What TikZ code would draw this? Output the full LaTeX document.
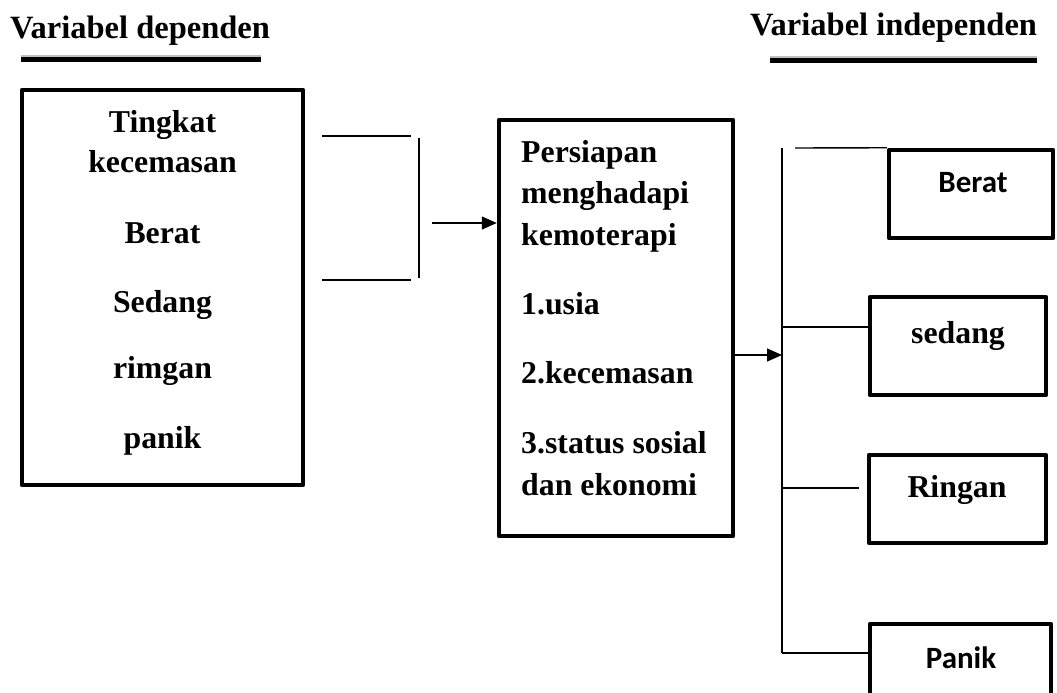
\documentclass[tikz,border=0pt]{standalone}
\usepackage{fontspec}
\setmainfont{Liberation Serif}
\newfontfamily\calib{Carlito}
\usetikzlibrary{arrows.meta}
\begin{document}
\begin{tikzpicture}[x=1pt,y=-1pt,
  box/.style={draw, line width=4.5pt, line join=round, inner sep=0pt},
  thin/.style={line width=1.4pt},
  arr/.style={thin, -{Triangle[length=15pt,width=13pt]}},
  txt/.style={anchor=base, inner sep=0pt, font=\fontsize{31.8}{38}\selectfont\bfseries},
  stxt/.style={anchor=base, inner sep=0pt, font=\fontsize{31}{36}\selectfont\calib\bfseries},
  ltxt/.style={anchor=base west, inner sep=0pt, font=\fontsize{31.8}{38}\selectfont\bfseries},
  ttxt/.style={anchor=base west, inner sep=0pt, font=\fontsize{32.5}{38}\selectfont\bfseries},
  bar/.style={line width=5pt},
  barshadow/.style={line width=4pt, draw=black!25}
]
\useasboundingbox (0,0) rectangle (1057,693);

% titles
\node[ttxt] (t1) at (10,38) {Variabel dependen};
\node[ttxt] (t2) at (750,36) {Variabel independen};
\coordinate (u1a) at (21,60); \coordinate (u1b) at (261,60);
\coordinate (u2a) at (770,61); \coordinate (u2b) at (1037,61);
\draw[barshadow] ([yshift=3]u1a) -- ([yshift=3]u1b);
\draw[barshadow] ([yshift=3]u2a) -- ([yshift=3]u2b);
\draw[bar] (u1a) -- (u1b);
\draw[bar] (u2a) -- (u2b);

% left box
\node[box, minimum width=281pt, minimum height=395pt] (left) at (162.5,287.5) {};
\node[txt] (l1) at (162.5,132) {Tingkat};
\node[txt] (l2) at (162.5,172) {kecemasan};
\node[txt] (l3) at (162.5,243) {Berat};
\node[txt] (l4) at (162.5,312) {Sedang};
\node[txt] (l5) at (162.5,378) {rimgan};
\node[txt] (l6) at (162.5,448) {panik};

% bracket
\coordinate (b1) at (322,136); \coordinate (b2) at (411,136);
\coordinate (b3) at (322,280); \coordinate (b4) at (411,280);
\coordinate (b5) at (419,138); \coordinate (b6) at (419,278);
\draw[thin] (b1) -- (b2);
\draw[thin] (b3) -- (b4);
\draw[thin] (b5) -- (b6);

% middle box
\node[box, minimum width=234pt, minimum height=416pt] (mid) at (616,328) {};
\coordinate (a1) at (432,223);
\draw[arr] (a1) -- (a1 -| mid.west);
\node[ltxt] (m1) at (521,162) {Persiapan};
\node[ltxt] (m2) at (521,203) {menghadapi};
\node[ltxt] (m3) at (521,245) {kemoterapi};
\node[ltxt] (m4) at (521,314) {1.usia};
\node[ltxt] (m5) at (521,383) {2.kecemasan};
\node[ltxt] (m6) at (521,453) {3.status sosial};
\node[ltxt] (m7) at (521,495) {dan ekonomi};

% spine
\coordinate (vt) at (782,148);
\coordinate (vb) at (782,653);
\draw[thin] (vt) -- (vb);
\coordinate (a2) at (782,355);
\draw[arr] (a2 -| mid.east) -- (a2);

% right boxes
\node[box, minimum width=164pt, minimum height=88pt] (berat) at (971,194) {};
\node[stxt] at (973,192) {Berat};
\node[box, minimum width=176pt, minimum height=98pt] (sedang) at (958,346) {};
\node[txt] at (958,343) {sedang};
\node[box, minimum width=177pt, minimum height=88pt] (ringan) at (957.5,499) {};
\node[txt] at (957,497) {Ringan};
\node[box, minimum width=181pt, minimum height=86pt] (panik) at (960.5,667) {};
\node[stxt] at (961,668) {Panik};

% branches
\coordinate (c1) at (795,148);
\draw[thin] (c1) -- (berat.north west);
\coordinate (c2) at (782,327);
\draw[thin] (c2) -- (c2 -| sedang.west);
\coordinate (c3) at (782,488); \coordinate (c3e) at (859,488);
\draw[thin] (c3) -- (c3e);
\draw[thin] (vb) -- (vb -| panik.west);
\end{tikzpicture}
\end{document}
